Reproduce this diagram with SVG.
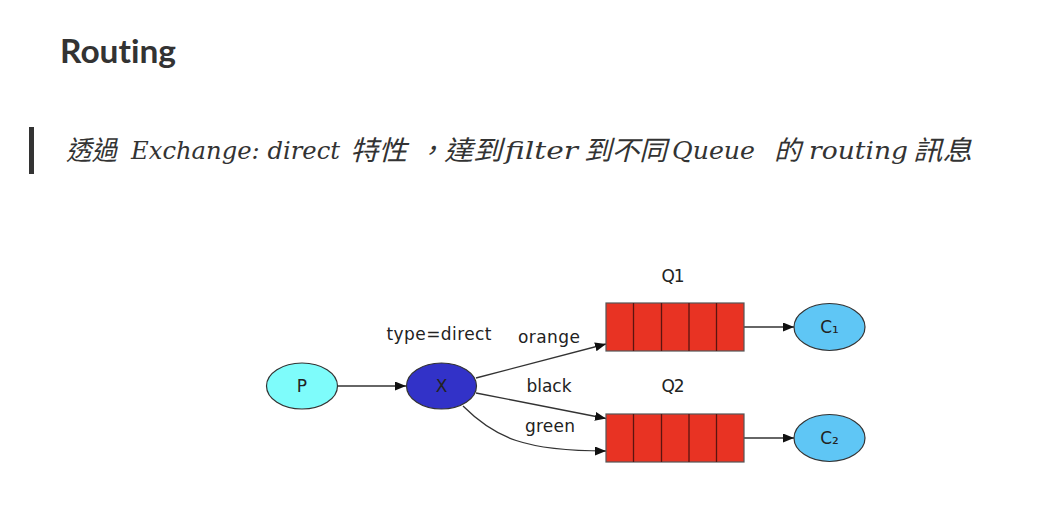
<svg xmlns="http://www.w3.org/2000/svg" width="1042" height="518" viewBox="0 0 1042 518">
<style>
.h{font-family:Lato,"Open Sans","Liberation Sans",sans-serif;font-weight:700;font-size:32px;fill:#333;font-variant-ligatures:none}
.q{font-family:"DejaVu Serif","Liberation Serif",serif;font-style:italic;font-size:25px;fill:#333}
.c{font-family:"Noto Sans CJK TC","Noto Sans CJK SC",sans-serif;font-style:italic;font-size:27px;fill:#333}
.lb{font-family:"DejaVu Sans","Liberation Sans",sans-serif;font-size:17px;fill:#222;text-anchor:middle}
.edge{fill:none;stroke:#333;stroke-width:1.3;marker-end:url(#arr)}
.ell{stroke:#333;stroke-width:1.2}
.qbox{fill:#e83323;stroke:#555;stroke-width:1.2}
.div{stroke:#5a1410;stroke-width:1.3}
</style>
<defs>
<marker id="arr" markerUnits="userSpaceOnUse" markerWidth="12" markerHeight="10" refX="11" refY="4.5" orient="auto">
<path d="M0,0 L11,4.5 L0,9 z" fill="#111"/>
</marker>
</defs>
<rect width="1042" height="518" fill="#fff"/>
<g id="title">
<text class="h" x="60" y="63" textLength="116" lengthAdjust="spacingAndGlyphs">Routing</text>
</g>
<g id="quote">
<rect x="29" y="127" width="5" height="47" fill="#333"/>
<text class="c" x="66" y="160" textLength="51" lengthAdjust="spacingAndGlyphs">透過</text>
<text class="q" x="131" y="159" textLength="209" lengthAdjust="spacingAndGlyphs">Exchange: direct</text>
<text class="c" x="350" y="160" textLength="57" lengthAdjust="spacingAndGlyphs">特性</text>
<text class="c" x="417" y="160">，</text>
<text class="c" x="444" y="160" textLength="58" lengthAdjust="spacingAndGlyphs">達到</text>
<text class="q" x="505" y="159" textLength="73" lengthAdjust="spacingAndGlyphs">filter</text>
<text class="c" x="584" y="160" textLength="83" lengthAdjust="spacingAndGlyphs">到不同</text>
<text class="q" x="672" y="159" textLength="83" lengthAdjust="spacingAndGlyphs">Queue</text>
<text class="c" x="774" y="160">的</text>
<text class="q" x="809" y="159" textLength="99" lengthAdjust="spacingAndGlyphs">routing</text>
<text class="c" x="913" y="160" textLength="59" lengthAdjust="spacingAndGlyphs">訊息</text>
</g>
<g id="connectors">
<path class="edge" d="M338,386 L406,386"/>
<path class="edge" d="M476,378 L606,344"/>
<path class="edge" d="M476,393 L606,418.5"/>
<path class="edge" d="M463,406 C495,438 525,451 606,451"/>
<path class="edge" d="M744,327 L794,327"/>
<path class="edge" d="M744,438 L794,438"/>
<text class="lb" x="439" y="340" textLength="105">type=direct</text>
<text class="lb" x="549" y="343" textLength="62">orange</text>
<text class="lb" x="549" y="392" textLength="45">black</text>
<text class="lb" x="550" y="432" textLength="50">green</text>
</g>
<g id="P">
<ellipse class="ell" cx="302" cy="386" rx="35.5" ry="23" fill="#7efcfb"/>
<text class="lb" x="302" y="392">P</text>
</g>
<g id="X">
<ellipse class="ell" cx="441.5" cy="386" rx="35" ry="23" fill="#3232c8"/>
<text class="lb" x="441.5" y="392">X</text>
</g>
<g id="Q1">
<text class="lb" x="673" y="282" textLength="23">Q1</text>
<rect class="qbox" x="606" y="303" width="138" height="48"/>
<path class="div" d="M633.5,303V351M661.5,303V351M689,303V351M716.5,303V351"/>
</g>
<g id="Q2">
<text class="lb" x="673" y="392" textLength="23">Q2</text>
<rect class="qbox" x="606" y="414" width="138" height="48"/>
<path class="div" d="M633.5,414V462M661.5,414V462M689,414V462M716.5,414V462"/>
</g>
<g id="C1">
<ellipse class="ell" cx="829.5" cy="327" rx="35.5" ry="23.5" fill="#5fc6f5"/>
<text class="lb" x="829.5" y="333">C₁</text>
</g>
<g id="C2">
<ellipse class="ell" cx="829.5" cy="438" rx="35.5" ry="23.5" fill="#5fc6f5"/>
<text class="lb" x="829.5" y="444">C₂</text>
</g>
</svg>
